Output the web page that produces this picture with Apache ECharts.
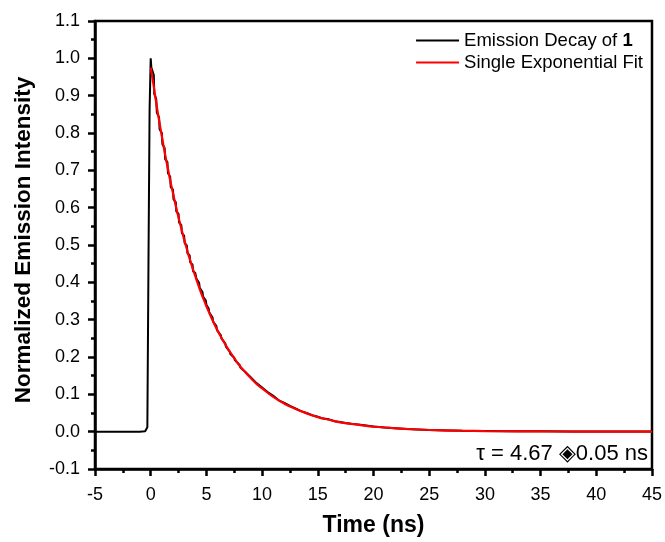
<!DOCTYPE html>
<html><head><meta charset="utf-8">
<script src="https://cdn.jsdelivr.net/npm/echarts@6/dist/echarts.min.js"></script>
<style>html,body{margin:0;padding:0;background:#fff}#c{width:665px;height:542px}</style>
</head><body><div id="c"></div>
<script>
// Emission decay (measured) — time in ns, normalized intensity
const decayTime = [-5,-4.5,-4,-3.5,-3,-2.5,-2,-1.5,-1,-0.5,-0.4,-0.3,-0.2,-0.1,0,
  0.06,0.1,0.28,0.32,0.5,0.55,0.75,0.8,1.0,1.05,1.25,1.3,1.5,1.55,1.75,1.8,2.0,2.05,2.25,2.3,2.5,2.55,2.75,2.8,3.0,
  3.05,3.25,3.3,3.5,3.55,3.75,3.8,4.0,4.1,4.35,4.4,4.65,4.7,4.95,5.0,5.2,5.25,5.55,5.6,5.9,5.95,6.3,6.35,6.7,6.75,
  7.1,7.15,7.5,7.55,8.0,8.05,8.5,8.55,9.0,9.05,9.5,10,10.5,11,11.5,12,12.5,13,13.5,14,14.5,15,15.5,16,16.5,17,17.5,
  18,19,20,21,22,23,24,25,26,28,30,32,35,38,41,45];
const decayValue = [0,0,0,0,0,0,0,0,0,0.001,0.003,0.012,0.45,0.86,1.0,
  0.975,0.97,0.955,0.905,0.89,0.855,0.842,0.81,0.80,0.77,0.76,0.73,0.722,0.692,0.683,0.655,0.648,0.622,0.615,0.59,0.583,0.56,0.553,0.532,0.525,
  0.505,0.498,0.478,0.472,0.453,0.448,0.43,0.425,0.41,0.398,0.385,0.374,0.362,0.351,0.34,0.33,0.32,0.306,0.295,0.283,0.272,0.258,0.25,0.236,0.228,
  0.214,0.208,0.198,0.192,0.178,0.172,0.16,0.155,0.145,0.14,0.13,0.118,0.106,0.096,0.084,0.077,0.069,0.062,0.055,0.05,0.044,0.040,0.035,0.033,0.028,0.026,0.023,
  0.021,0.018,0.014,0.011,0.009,0.007,0.006,0.0045,0.004,0.0025,0.002,0.001,0.0008,0.0005,0.0004,0.0003];
// Single exponential fit
const fitTime = [0,0.2,0.4,0.6,0.8,1.0,1.2,1.4,1.6,1.8,2.0,2.2,2.4,2.6,2.8,3.0,3.2,3.4,3.6,3.8,4.0,4.2,4.4,4.6,4.8,5.0,
  5.5,6.0,6.5,7.0,7.5,8.0,8.5,9.0,9.5,10,11,12,13,14,15,16,17,18,19,20,22,24,26,28,30,33,36,40,45];
const fitValue = [0.975,0.939,0.900,0.861,0.826,0.791,0.758,0.726,0.696,0.666,0.639,0.612,0.586,0.562,0.538,0.515,0.494,0.473,0.454,0.434,0.417,0.399,0.382,0.366,0.351,0.336,
  0.302,0.271,0.244,0.219,0.197,0.176,0.159,0.143,0.128,0.116,0.093,0.075,0.061,0.049,0.039,0.032,0.025,0.021,0.017,0.0135,0.0088,0.0058,0.0037,0.0025,0.0016,0.0008,0.0004,0.0002,0.0001];
const seriesNames = ['Emission Decay of 1','Single Exponential Fit'];
const xTitle = 'Time (ns)';
const yTitle = 'Normalized Emission Intensity';
const annotation = 'τ = 4.67 ◈0.05 ns';

const F = '"Liberation Sans", Arial, sans-serif';
const chart = echarts.init(document.getElementById('c'));
const axisCommon = {
  axisLine:{onZero:false,lineStyle:{color:'#000',width:2.5}},
  axisTick:{inside:false,length:7,lineStyle:{color:'#000',width:2.5}},
  minorTick:{show:true,splitNumber:2,length:4,lineStyle:{color:'#000',width:2.5}},
  splitLine:{show:false}
};
chart.setOption({
  animation:false,
  backgroundColor:'#fff',
  grid:{left:95,right:13,top:21,bottom:72,show:true,borderColor:'#000',borderWidth:2.5,backgroundColor:'transparent'},
  xAxis:Object.assign({type:'value',min:-5,max:45,interval:5,
    name:xTitle,nameLocation:'middle',nameGap:45,
    nameTextStyle:{fontFamily:F,fontWeight:'bold',fontSize:23,color:'#000'},
    axisLabel:{fontFamily:F,fontSize:18,color:'#000',margin:17}},axisCommon),
  yAxis:Object.assign({type:'value',min:-0.1,max:1.1,interval:0.1,
    axisLabel:{fontFamily:F,fontSize:18,color:'#000',margin:15,formatter:v=>v.toFixed(1)}},axisCommon),
  legend:{orient:'vertical',right:17,top:26,icon:'rect',itemWidth:43,itemHeight:2,itemGap:3,
    data:seriesNames,
    formatter:function(n){return n===seriesNames[0]?'{a|Emission Decay of }{b|1}':'{a|'+n+'}';},
    textStyle:{fontFamily:F,fontSize:18.5,color:'#000',rich:{a:{fontFamily:F,fontSize:18.5,color:'#000'},b:{fontFamily:F,fontSize:18.5,fontWeight:'bold',color:'#000'}}}},
  series:[
    {name:seriesNames[0],type:'line',symbol:'none',data:decayTime.map((t,i)=>[t,decayValue[i]]),
      lineStyle:{color:'#000',width:2},itemStyle:{color:'#000'}},
    {name:seriesNames[1],type:'line',symbol:'none',smooth:true,data:fitTime.map((t,i)=>[t,fitValue[i]]),
      lineStyle:{color:'#ff0000',width:2.2},itemStyle:{color:'#ff0000'}}
  ],
  graphic:[
    {type:'text',x:648,y:454,style:{text:annotation,fontFamily:F,fontSize:22,fill:'#000',textAlign:'right',textVerticalAlign:'middle'}},
    {type:'text',x:24,y:240,rotation:Math.PI/2,style:{text:yTitle,fontFamily:F,fontSize:22.5,fontWeight:'bold',fill:'#000',textAlign:'center',textVerticalAlign:'middle'}}
  ]
});
</script></body></html>
